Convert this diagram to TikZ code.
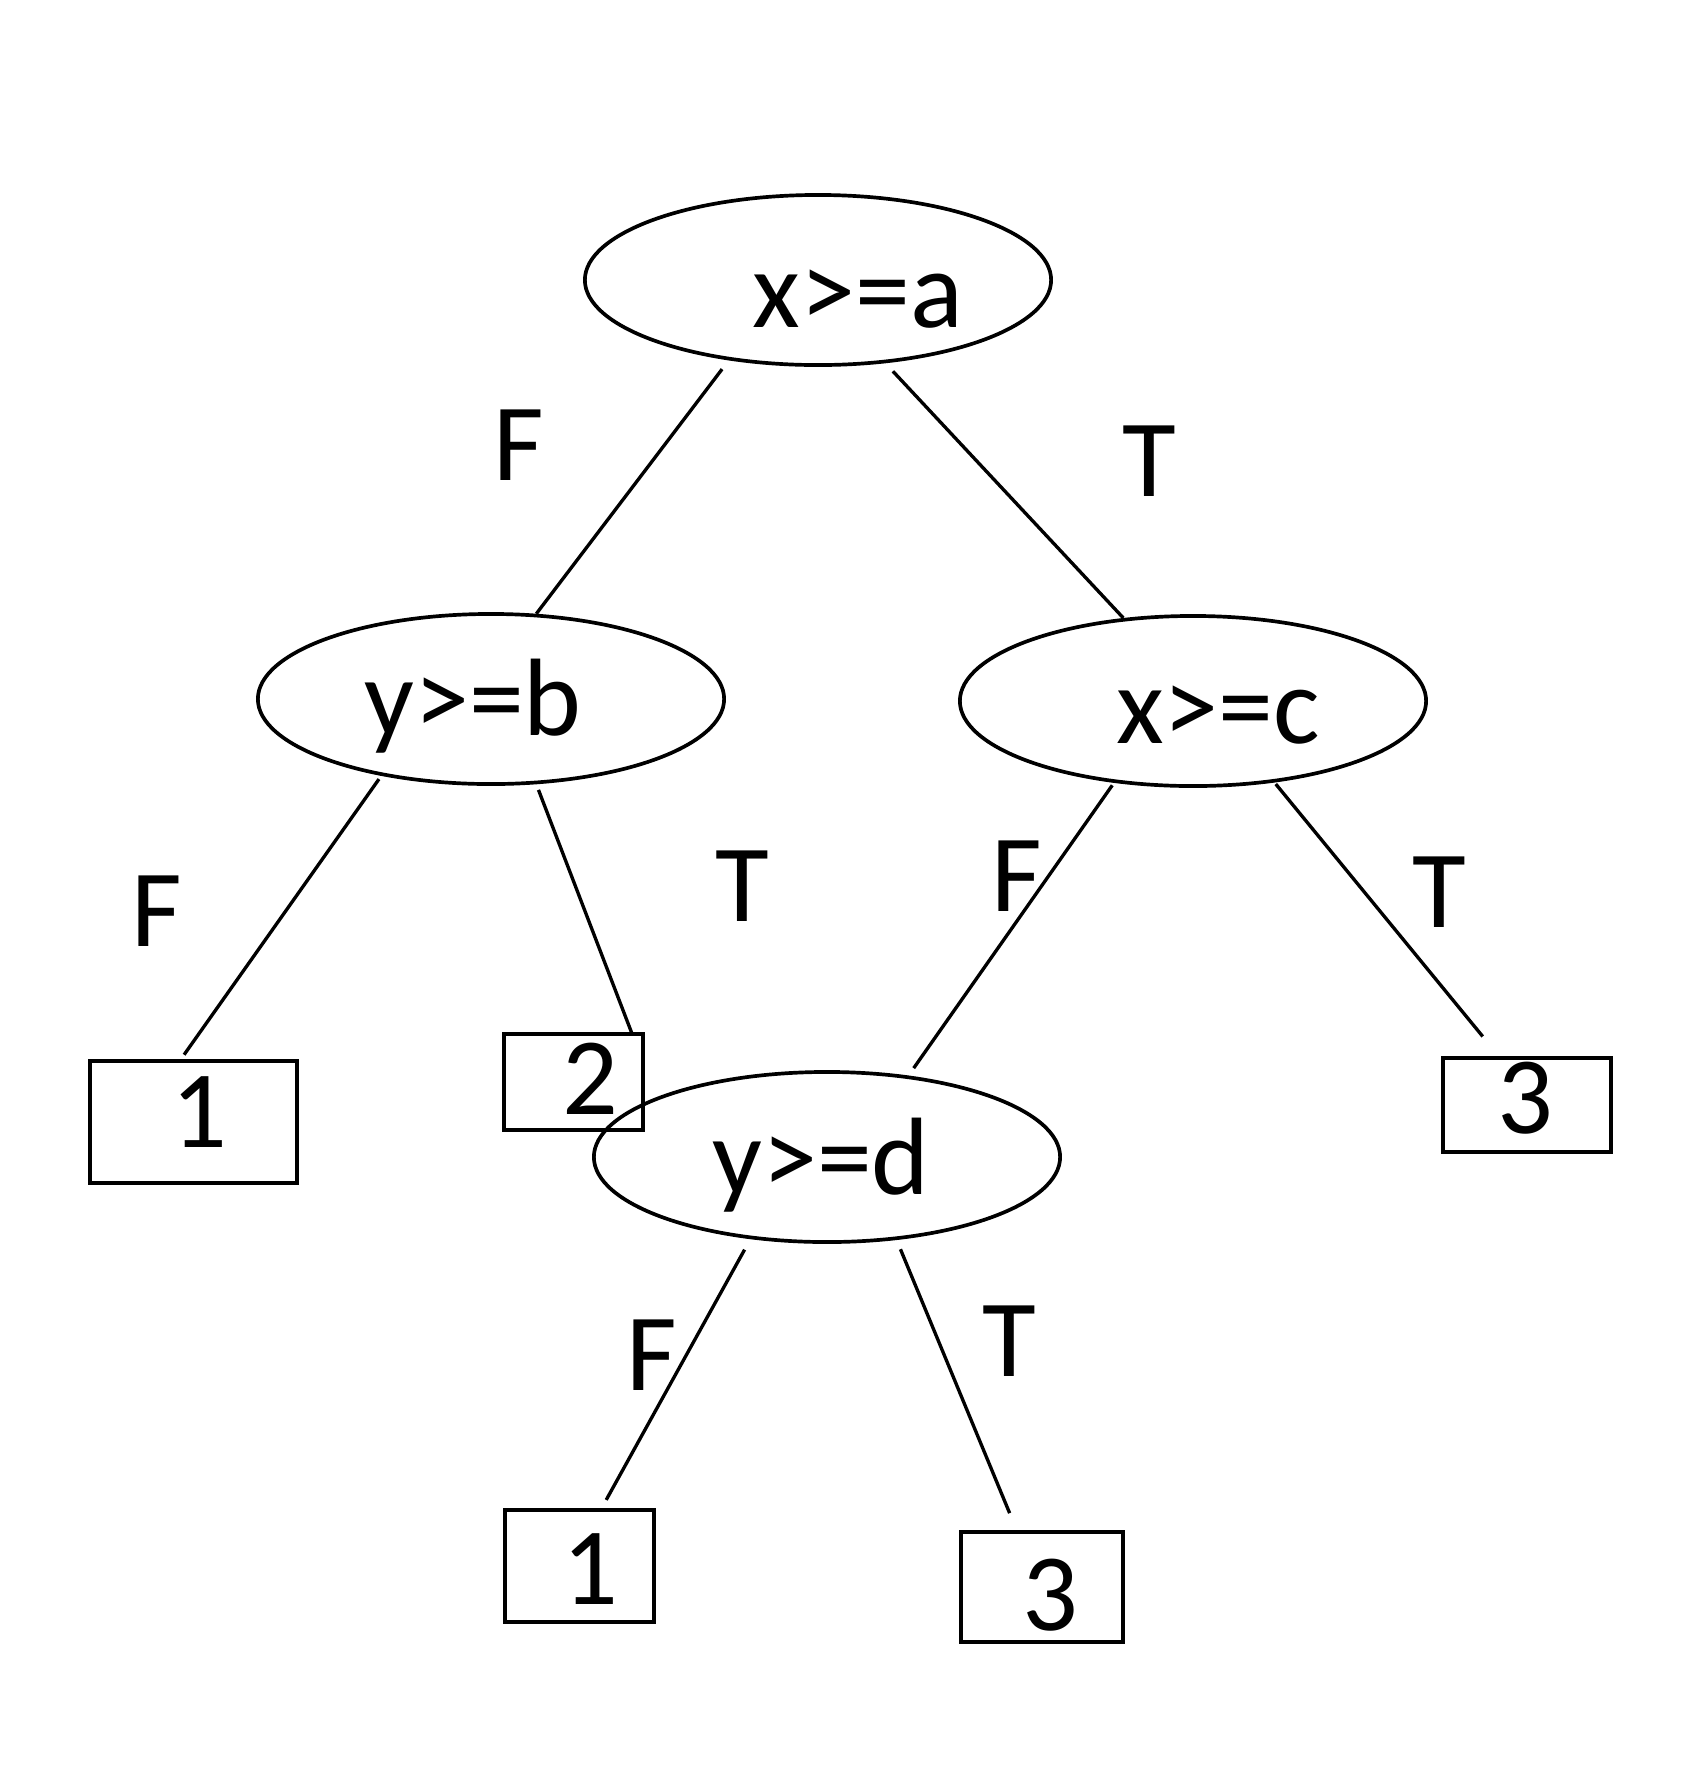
\documentclass[tikz,border=0pt]{standalone}
\usepackage{fontspec}
\setmainfont{Carlito}
\usetikzlibrary{shapes.geometric}
\begin{document}
\begin{tikzpicture}[x=0.01cm,y=-0.01cm,
  test/.style={ellipse,draw,line width=1.05pt,minimum width=4.66cm,minimum height=1.70cm,inner sep=0pt},
  leaf/.style={rectangle,draw,line width=1.25pt,inner sep=0pt},
  txt/.style={anchor=base,inner sep=0pt,font=\fontsize{31.3pt}{36pt}\selectfont},
  edge/.style={line width=0.95pt}]
\useasboundingbox[fill=white] (0,0) rectangle (1703,1784);

% decision nodes
\node[test] (A) at (818,280) {};
\node[test] (B) at (491,699) {};
\node[test] (C) at (1193,701) {};
\node[test] (D) at (827,1157) {};
\node[txt] (tA) at (858,327) {x>=a};
\node[txt] (tB) at (473,735) {y>=b};
\node[txt] (tC) at (1218,743) {x>=c};
\node[txt] (tD) at (821,1194) {y>=d};

% leaves
\node[leaf,minimum width=2.07cm,minimum height=1.22cm] (L1) at (193.5,1122) {};
\node[leaf,minimum width=1.39cm,minimum height=0.96cm] (L2) at (573.5,1082) {};
\node[leaf,minimum width=1.68cm,minimum height=0.94cm] (L3) at (1527,1105) {};
\node[leaf,minimum width=1.49cm,minimum height=1.12cm] (L4) at (579.5,1566) {};
\node[leaf,minimum width=1.62cm,minimum height=1.10cm] (L5) at (1042,1587) {};
\node[txt] (n1) at (199,1147) {1};
\node[txt] (n2) at (590,1114) {2};
\node[txt] (n3) at (1525,1133) {3};
\node[txt] (n4) at (590,1604) {1};
\node[txt] (n5) at (1050,1630) {3};

% branches
\draw[edge,shorten <=0.11cm] (A.222) -- (B.62);
\draw[edge,shorten <=0.11cm] (A.309) -- (C.130);
\draw[edge,shorten <=0.04cm,shorten >=0.05cm] (B.215) -- (L1.101);
\draw[edge,shorten <=0.06cm,shorten >=-0.03cm] (B.298) -- (L2.41);
\draw[edge,shorten <=0.03cm,shorten >=0.09cm] (C.226) -- (D.45);
\draw[edge,shorten <=0.02cm,shorten >=0.25cm] (C.315) -- (L3.120);
\draw[edge,shorten <=0.12cm,shorten >=0.09cm] (D.227) -- (L4.69);
\draw[edge,shorten <=0.10cm,shorten >=0.18cm] (D.310) -- (L5.114);

% branch labels
\node[txt] (eAB) at (519,480) {F};
\node[txt] (eAC) at (1149,496) {T};
\node[txt] (eB1) at (157,946) {F};
\node[txt] (eB2) at (742,921) {T};
\node[txt] (eCD) at (1017,911) {F};
\node[txt] (eC3) at (1439,927) {T};
\node[txt] (eD1) at (652,1390) {F};
\node[txt] (eD3) at (1009,1376) {T};
\end{tikzpicture}
\end{document}
